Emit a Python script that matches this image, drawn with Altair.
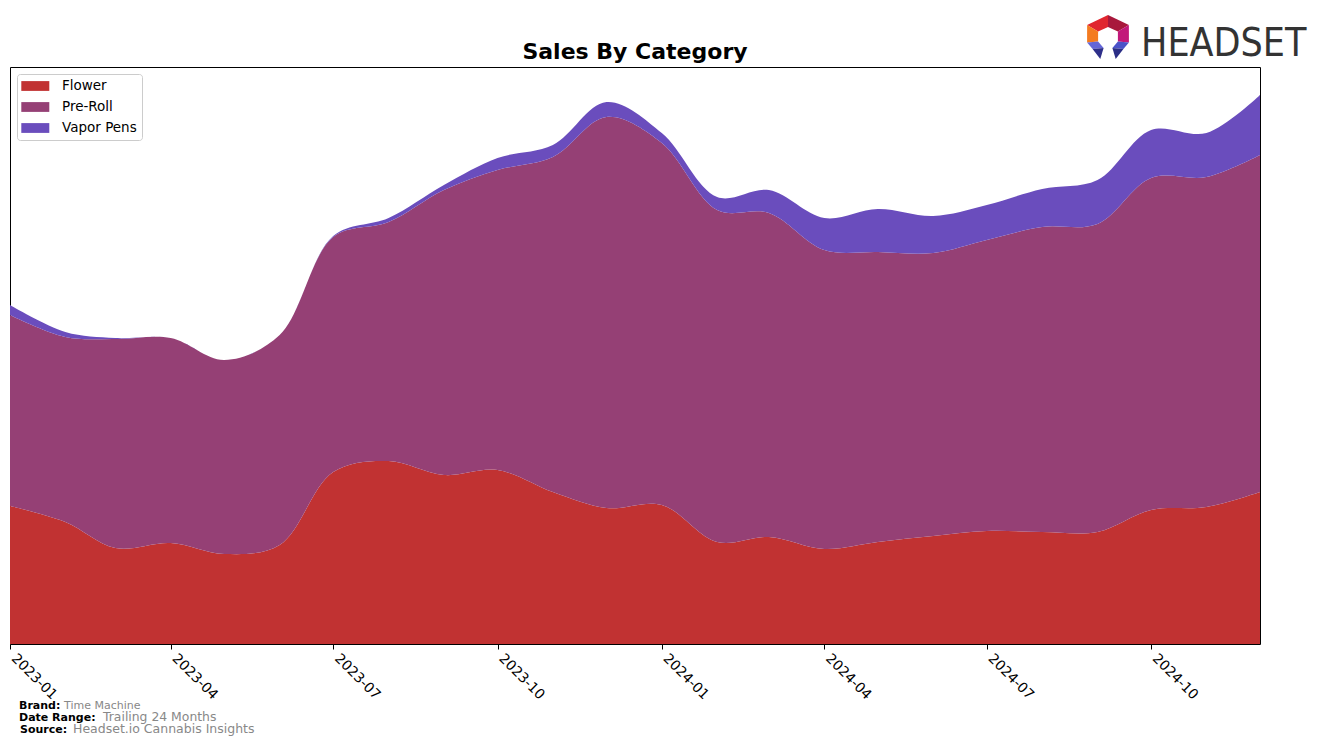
import altair as alt
import pandas as pd

# ---------------- data ----------------
MONTHS = [
    "2023-01-01", "2023-02-01", "2023-03-01", "2023-04-01", "2023-05-01", "2023-06-01",
    "2023-07-01", "2023-08-01", "2023-09-01", "2023-10-01", "2023-11-01", "2023-12-01",
    "2024-01-01", "2024-02-01", "2024-03-01", "2024-04-01", "2024-05-01", "2024-06-01",
    "2024-07-01", "2024-08-01", "2024-09-01", "2024-10-01", "2024-11-01", "2024-12-01",
]
CATEGORIES = ["Flower", "Pre-Roll", "Vapor Pens"]
COLORS = ["#C13232", "#954075", "#6A4DBD"]
FLOWER = [138, 122, 96, 101, 90, 99, 172, 183, 169, 174, 152, 136,
          139, 102, 107, 95, 102, 108, 113, 112, 112, 134, 137, 152]
PREROLL = [191, 185, 209, 205, 194, 210, 235, 239, 285, 300, 335, 391,
           362, 332, 324, 299, 290, 283, 291, 305, 308, 332, 330, 337]
VAPOR = [10, 5, 1, 0, 0, 0, 1, 4, 5, 12, 12, 15,
         10, 13, 23, 32, 43, 37, 35, 38, 44, 48, 44, 60]
TICK_MONTHS = [(2023, 1), (2023, 4), (2023, 7), (2023, 10),
               (2024, 1), (2024, 4), (2024, 7), (2024, 10)]
TITLE = "Sales By Category"
FOOTER = [
    ("Brand:", "Time Machine"),
    ("Date Range:", "Trailing 24 Months"),
    ("Source:", "Headset.io Cannabis Insights"),
]
LOGO_TEXT = "HEADSET"

rows = []
for i, m in enumerate(MONTHS):
    for k, (cat, vals) in enumerate(zip(CATEGORIES, [FLOWER, PREROLL, VAPOR])):
        rows.append({"month": m, "category": cat, "sales": vals[i], "ord": k})
df = pd.DataFrame(rows)

W, H = 1250, 577
FONT = "DejaVu Sans"

area = alt.Chart(df).mark_area(interpolate="catmull-rom", opacity=1).encode(
    x=alt.X(
        "month:T",
        title=None,
        scale=alt.Scale(type="utc", nice=False, padding=0),
        axis=alt.Axis(
            values=[alt.DateTime(year=y, month=m, date=1, utc=True) for y, m in TICK_MONTHS],
            labelExpr="utcFormat(datum.value, '%Y-%m')",
            labelAngle=45, labelAlign="left", labelBaseline="top",
            labelOffset=8, labelPadding=2,
            tickSize=5, tickColor="black", tickWidth=1,
            labelFontSize=13.9, labelFont=FONT, labelColor="black",
            domain=False, grid=False, labelOverlap=False,
        ),
    ),
    y=alt.Y("sales:Q", stack="zero",
            scale=alt.Scale(domain=[0, 577], nice=False, zero=True), axis=None),
    color=alt.Color(
        "category:N",
        scale=alt.Scale(domain=CATEGORIES, range=COLORS),
        legend=alt.Legend(
            title=None, orient="none", legendX=7, legendY=7,
            fillColor="white", strokeColor="#cccccc", cornerRadius=3, padding=5,
            symbolType="M-1.1,-0.7L2.9,-0.7L2.9,0.7L-1.1,0.7Z", symbolSize=196,
            symbolStrokeWidth=0, symbolOpacity=1,
            labelFontSize=13.5, labelFont=FONT, labelColor="black",
            labelOffset=26, rowPadding=7,
        ),
    ),
    order=alt.Order("ord:Q", sort="ascending"),
)


def txt(s, x, y, size, bold, color, font=FONT, align="left"):
    return alt.Chart(pd.DataFrame({"t": [s]})).mark_text(
        align=align, baseline="alphabetic", fontSize=size,
        fontWeight="bold" if bold else "normal", font=font, color=color,
    ).encode(text="t:N", x=alt.value(x), y=alt.value(y))


layers = [area]

# title
layers.append(txt(TITLE, 625, -8, 22, True, "black", align="center"))

foot_pos = [(9, 54, 642), (9, 93, 654), (10, 63, 666)]
foot_size = [11, 12.4, 12.5]
for (lab, val), (x0, x1, yy), fs in zip(FOOTER, foot_pos, foot_size):
    layers.append(txt(lab, x0, yy, 11, True, "black"))
    layers.append(txt(val, x1, yy, fs, False, "#888888"))

# logo wordmark
layers.append(txt(LOGO_TEXT, 1131, -11, 39, False, "#333333",
                  font="DejaVu Sans Condensed, DejaVu Sans, sans-serif"))

# logo icon (polygons)
ICON_PATHS = [
    "M-0.95,-0.55L0,-1L0,-0.45L-0.45,-0.25Z",
    "M0,-1L0.95,-0.55L0.45,-0.25L0,-0.45Z",
    "M-0.95,-0.55L-0.45,-0.25L-0.45,0.2L-0.95,0.25Z",
    "M0.95,-0.55L0.95,0.25L0.45,0.2L0.45,-0.25Z",
    "M-0.95,0.25L-0.45,0.2L-0.2,0.5L-0.7,0.55Z",
    "M0.95,0.25L0.45,0.2L0.2,0.5L0.7,0.55Z",
    "M-0.7,0.55L-0.2,0.5L-0.35,1Z",
    "M0.7,0.55L0.2,0.5L0.35,1Z",
]
ICON_COLORS = ["#E0262F", "#A8183C", "#F47B20", "#C2187A",
               "#6466D8", "#4A52C8", "#2E2F8A", "#2B2E86"]
icon_df = pd.DataFrame({"p": ICON_PATHS, "c": ICON_COLORS})
icon = alt.Chart(icon_df).mark_point(filled=True, opacity=1, strokeWidth=0).encode(
    shape=alt.Shape("p:N", scale=None, legend=None),
    color=alt.Color("c:N", scale=None, legend=None),
    x=alt.value(1098), y=alt.value(-30), size=alt.value(1936),
)
layers.append(icon)

chart = alt.layer(*layers).resolve_scale(color="independent", shape="independent").properties(
    width=W, height=H,
    padding={"left": 10, "top": 67, "right": 64, "bottom": 102},
    autosize=alt.AutoSizeParams(type="none"),
    background="white",
).configure_view(stroke="black", strokeWidth=1)

chart.save("out.html", embed_options={"renderer": "svg", "actions": False})
